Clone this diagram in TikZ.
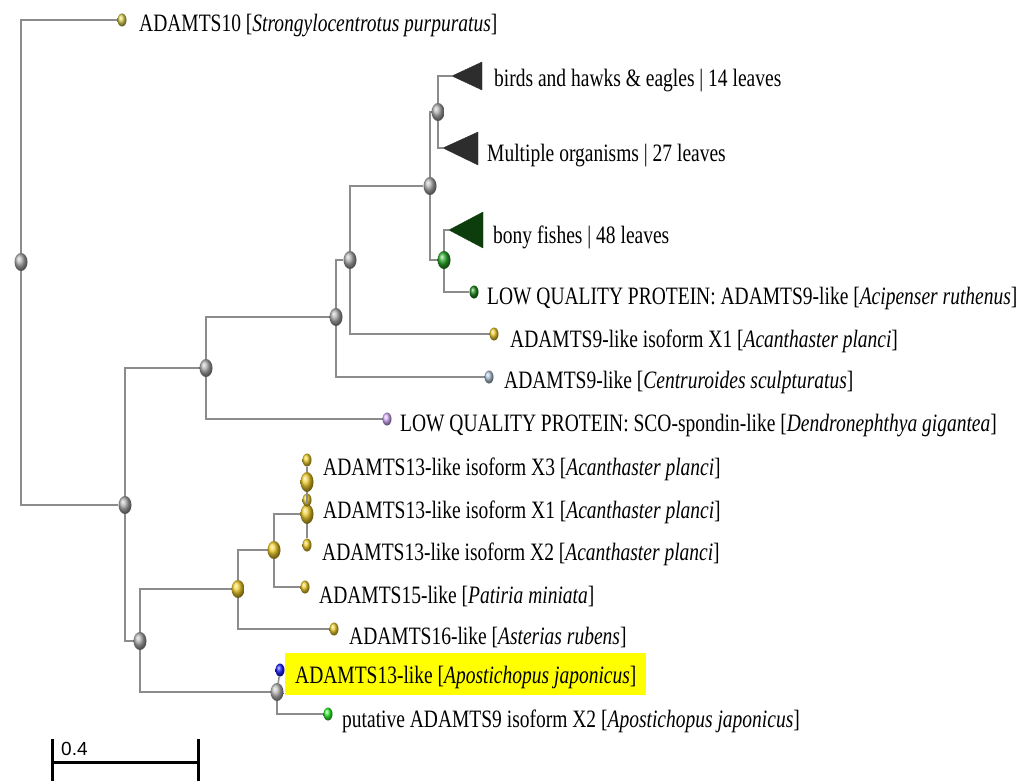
\documentclass[tikz,border=0pt]{standalone}
\usepackage{fontspec}
\setmainfont[FakeStretch=0.78]{Liberation Serif}
\newfontfamily\barfont{Liberation Sans}
\usetikzlibrary{shapes.geometric}
\definecolor{branch}{HTML}{8C8C8C}
\definecolor{olivey}{HTML}{D8D050}
\definecolor{goldy}{HTML}{EECB2A}
\definecolor{greenn}{HTML}{2AA82A}
\definecolor{greenl}{HTML}{1E8A1E}
\definecolor{steelb}{HTML}{B0C4D8}
\definecolor{lavend}{HTML}{D4AEF8}
\definecolor{blueb}{HTML}{2020FF}
\definecolor{brightg}{HTML}{30F030}
\definecolor{cladegray}{HTML}{2D2D2D}
\definecolor{cladegreen}{HTML}{0D3D0D}
\definecolor{hilite}{HTML}{FFFF00}
\tikzset{
  br/.style={draw=branch, line width=1.6pt},
  inode/.style={ellipse, minimum width=13pt, minimum height=18pt, inner sep=0pt, ball color=#1},
  inode/.default={gray!65},
  leafm/.style={ellipse, minimum width=9pt, minimum height=13pt, inner sep=0pt, ball color=#1},
  lbl/.style={anchor=base west, inner sep=0pt, font=\fontsize{25}{30}\selectfont},
  clade/.style={fill=#1, draw=#1, line join=round},
  scalebar/.style={draw=black, line width=3pt}
}
\begin{document}
\begin{tikzpicture}[x=1pt,y=-1pt]
\useasboundingbox (0,0) rectangle (1032,781);
% highlight
\node[lbl, fill=hilite, inner xsep=10pt, text height=30pt, text depth=12pt] (t14) at (285,683) {ADAMTS13-like [\textit{Apostichopus japonicus}]\hspace{6pt}};
% internal nodes
\node[inode] (root) at (21,262) {};
\node[inode] (A) at (125,505) {};
\node[inode] (B) at (206,368) {};
\node[inode] (C) at (336,317) {};
\node[inode] (D) at (350,260) {};
\node[inode] (E) at (430,186) {};
\node[inode] (G) at (438,112) {};
\node[inode=greenn] (F) at (444,260) {};
\node[inode] (H) at (140,641) {};
\node[inode=goldy] (I) at (238,589) {};
\node[inode=goldy] (K) at (274,550) {};
\node[inode=goldy, minimum height=20pt] (L) at (307,514) {};
\node[inode=goldy, minimum height=20pt] (L2) at (307,482) {};
\node[inode=gray!55] (J) at (277,692) {};
% collapsed clades
\coordinate (birdtip) at (452,76);
\coordinate (multitip) at (443,148);
\coordinate (bonytip) at (449,230);
\fill[clade=cladegray] (birdtip) -- ++(30,-14) -- ++(0,28) -- cycle;
\fill[clade=cladegray] (multitip) -- ++(35,-16) -- ++(0,33) -- cycle;
\fill[clade=cladegreen] (bonytip) -- ++(34,-18) -- ++(0,36) -- cycle;
% leaf markers
\node[leafm=olivey] (m10) at (122,20) {};
\node[leafm=greenl] (maci) at (474,292) {};
\node[leafm=goldy] (mx1iso) at (494,334) {};
\node[leafm=steelb] (mcen) at (489,377) {};
\node[leafm=lavend] (msco) at (387,419) {};
\node[leafm=goldy] (mx3) at (307,460) {};
\node[leafm=goldy] (mx1) at (307,500) {};
\node[leafm=goldy] (mx2) at (307,545) {};
\node[leafm=goldy] (m15) at (305,587) {};
\node[leafm=goldy] (m16) at (334,629) {};
\node[leafm=blueb] (mblue) at (280,670) {};
\node[leafm=brightg] (mgreen) at (328,714) {};
% branches
\draw[br] (root) |- (m10);
\draw[br] (root) |- (A);
\draw[br] (A) |- (B);
\draw[br] (A) |- (H);
\draw[br] (B) |- (C);
\draw[br] (B) |- (msco);
\draw[br] (C) |- (D);
\draw[br] (C) |- (mcen);
\draw[br] (D) |- (E);
\draw[br] (D) |- (mx1iso);
\draw[br] (E) |- (G);
\draw[br] (E) |- (F);
\draw[br] (G) |- (birdtip);
\draw[br] (G) |- (multitip);
\draw[br] (F) |- (bonytip);
\draw[br] (F) |- (maci);
\draw[br] (H) |- (I);
\draw[br] (H) |- (J);
\draw[br] (I) |- (K);
\draw[br] (I) |- (m16);
\draw[br] (K) |- (L);
\draw[br] (K) |- (m15);
\draw[br] (L) -- (L2);
\draw[br] (L) -- (mx2);
\draw[br] (L2) -- (mx3);
\draw[br] (L2) -- (mx1);
\draw[br] (J) -- (mblue);
\draw[br] (J) |- (mgreen);
% labels
\node[lbl] (t1) at (139,32) {ADAMTS10 [\textit{Strongylocentrotus purpuratus}]};
\node[lbl] (t2) at (494,87) {birds and hawks \& eagles | 14 leaves};
\node[lbl] (t3) at (487,161) {Multiple organisms | 27 leaves};
\node[lbl] (t4) at (493,243) {bony fishes | 48 leaves};
\node[lbl] (t5) at (487,304) {LOW QUALITY PROTEIN: ADAMTS9-like [\textit{Acipenser ruthenus}]};
\node[lbl] (t6) at (510,347) {ADAMTS9-like isoform X1 [\textit{Acanthaster planci}]};
\node[lbl] (t7) at (504,388) {ADAMTS9-like [\textit{Centruroides sculpturatus}]};
\node[lbl] (t8) at (400,431) {LOW QUALITY PROTEIN: SCO-spondin-like [\textit{Dendronephthya gigantea}]};
\node[lbl] (t9) at (323,475) {ADAMTS13-like isoform X3 [\textit{Acanthaster planci}]};
\node[lbl] (t10) at (323,518) {ADAMTS13-like isoform X1 [\textit{Acanthaster planci}]};
\node[lbl] (t11) at (322,560) {ADAMTS13-like isoform X2 [\textit{Acanthaster planci}]};
\node[lbl] (t12) at (319,603) {ADAMTS15-like [\textit{Patiria miniata}]};
\node[lbl] (t13) at (349,644) {ADAMTS16-like [\textit{Asterias rubens}]};
\node[lbl] (t15) at (342,727) {putative ADAMTS9 isoform X2 [\textit{Apostichopus japonicus}]};
% scale bar
\coordinate (sbl) at (52,762);
\coordinate (sbr) at (198,762);
\draw[scalebar] (52,739) -- (52,781);
\draw[scalebar] (198,739) -- (198,781);
\draw[scalebar] (sbl) -- (sbr);
\node[anchor=base west, inner sep=0pt, font=\barfont\fontsize{19}{21}\selectfont] (sbt) at (61,755) {0.4};
\end{tikzpicture}
\end{document}
